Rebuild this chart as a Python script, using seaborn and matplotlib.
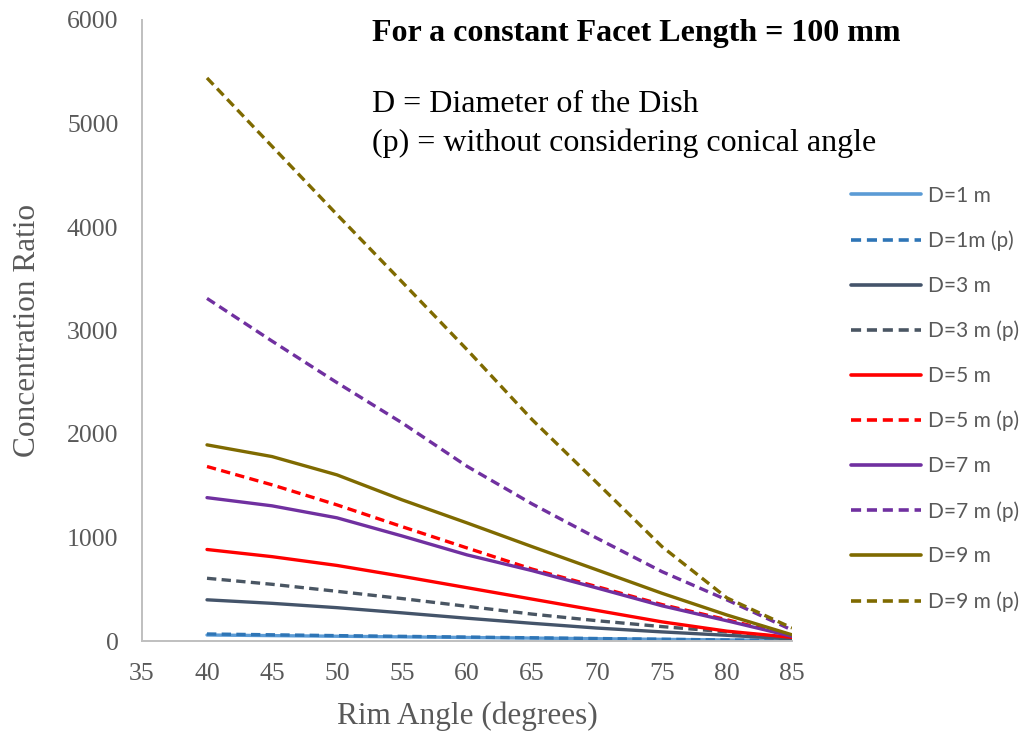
import matplotlib
matplotlib.use("Agg")
import matplotlib.pyplot as plt
import seaborn as sns
import pandas as pd

# Rim angle (degrees)
angles = [40, 45, 50, 55, 60, 65, 70, 75, 80, 85]

# Concentration ratio per dish diameter; "(p)" = without considering conical angle
d1 = [58, 52, 46, 40, 34, 28, 22, 16, 10, 5]
d1_p = [68, 60, 52, 45, 38, 31, 24, 17, 10, 4]
d3 = [398, 364, 322, 272, 220, 171, 125, 88, 55, 20]
d3_p = [606, 548, 480, 410, 335, 260, 196, 139, 88, 30]
d5 = [884, 815, 730, 625, 515, 405, 295, 185, 95, 35]
d5_p = [1686, 1509, 1315, 1105, 899, 695, 525, 352, 205, 50]
d7 = [1385, 1306, 1190, 1015, 832, 680, 512, 340, 195, 45]
d7_p = [3310, 2898, 2496, 2108, 1688, 1325, 993, 670, 397, 106]
d9 = [1895, 1782, 1605, 1364, 1141, 912, 687, 461, 251, 60]
d9_p = [5440, 4780, 4120, 3470, 2815, 2140, 1528, 912, 416, 126]

series_names = ["D=1 m", "D=1m (p)", "D=3 m", "D=3 m (p)", "D=5 m",
                "D=5 m (p)", "D=7 m", "D=7 m (p)", "D=9 m", "D=9 m (p)"]
series_values = [d1, d1_p, d3, d3_p, d5, d5_p, d7, d7_p, d9, d9_p]
series_colors = ["#5B9BD5", "#2E75B6", "#44546A", "#4A5663", "#FF0000",
                 "#FF0000", "#7030A0", "#7030A0", "#7F6A00", "#7F6A00"]

rows = []
for name, vals in zip(series_names, series_values):
    for a, v in zip(angles, vals):
        rows.append({"Rim Angle": a, "Concentration Ratio": v, "Series": name})
df = pd.DataFrame(rows)

palette = dict(zip(series_names, series_colors))
dash_pattern = (2.8, 1.6)
dashes = {n: (dash_pattern if "(p)" in n else "") for n in series_names}

sns.set_theme(style="white")
plt.rcParams["font.family"] = ["Liberation Serif", "DejaVu Serif"]

fig = plt.figure(figsize=(10.26, 7.34), dpi=100)
ax = fig.add_axes([142 / 1026, 1 - 641 / 734, 650 / 1026, 621 / 734])

sns.lineplot(data=df, x="Rim Angle", y="Concentration Ratio", hue="Series",
             style="Series", hue_order=series_names, style_order=series_names,
             palette=palette, dashes=dashes, linewidth=2.4, ax=ax)

ax.set_xlim(35, 85)
ax.set_ylim(0, 6000)
ax.set_xticks(range(35, 86, 5))
ax.set_yticks(range(0, 6001, 1000))
ax.tick_params(axis="both", length=0, labelsize=18.5, labelcolor="#595959")
ax.tick_params(axis="y", pad=17)
ax.tick_params(axis="x", pad=16)

for side in ["top", "right"]:
    ax.spines[side].set_visible(False)
for side in ["left", "bottom"]:
    ax.spines[side].set_color("#BFBFBF")
    ax.spines[side].set_linewidth(1.4)

ax.set_xlabel("Rim Angle (degrees)", fontsize=22.5, color="#595959", labelpad=12)
ax.set_ylabel("Concentration Ratio", fontsize=22.5, color="#595959", labelpad=18)

fig.text(372 / 1026, 1 - 33 / 734, "For a constant Facet Length = 100 mm",
         fontsize=23, fontweight="bold", color="black", va="center", ha="left")
fig.text(372 / 1026, 1 - 104 / 734, "D = Diameter of the Dish",
         fontsize=23, color="black", va="center", ha="left")
fig.text(372 / 1026, 1 - 143 / 734, "(p) = without considering conical angle",
         fontsize=23, color="black", va="center", ha="left")

handles, labels = ax.get_legend_handles_labels()
ax.legend_.remove()
leg = fig.legend(handles, labels, loc="upper left",
                 bbox_to_anchor=(832 / 1026, 1 - 167 / 734), frameon=False,
                 handlelength=3.37, handletextpad=0.34, labelspacing=1.19,
                 prop={"family": "Lato", "size": 15})
for t in leg.get_texts():
    t.set_color("#595959")
for h in leg.get_lines():
    h.set_linewidth(2.6)

fig.savefig("out.png", dpi=100)
